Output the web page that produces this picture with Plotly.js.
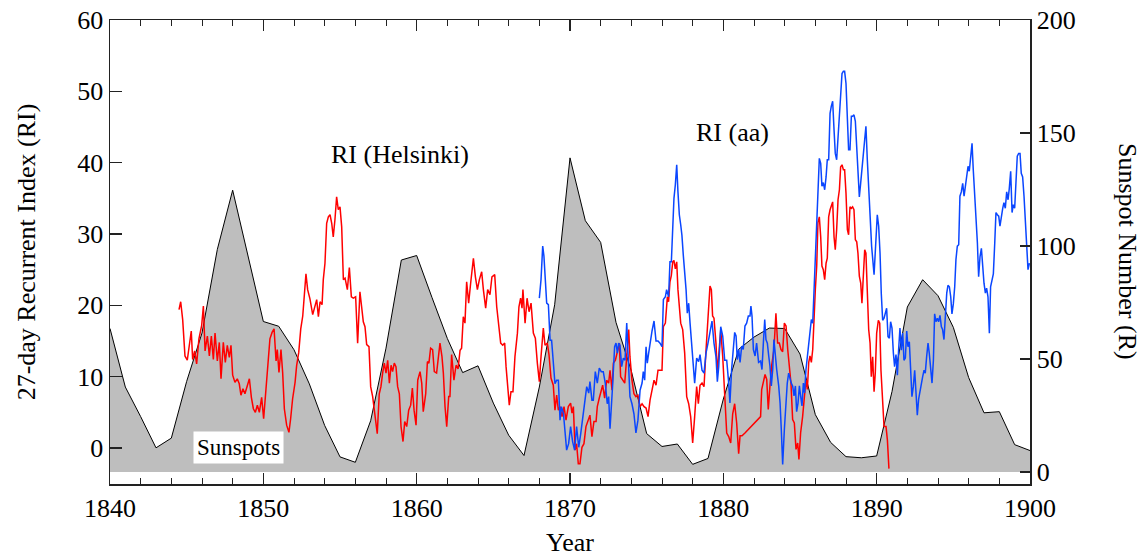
<!DOCTYPE html>
<html>
<head>
<meta charset="utf-8">
<script src="https://cdn.plot.ly/plotly-3.0.1.min.js"></script>
<style>html,body{margin:0;padding:0;background:#fff;}#chart{width:1146px;height:557px;}</style>
</head>
<body>
<div id="chart"></div>
<script>
// Yearly sunspot number (right axis)
const sunYear = [1840,1841,1842,1843,1844,1845,1846,1847,1848,1849,1850,1851,1852,1853,1854,1855,1856,1857,1858,1859,1860,1861,1862,1863,1864,1865,1866,1867,1868,1869,1870,1871,1872,1873,1874,1875,1876,1877,1878,1879,1880,1881,1882,1883,1884,1885,1886,1887,1888,1889,1890,1891,1892,1893,1894,1895,1896,1897,1898,1899,1900];
const sunR = [63.5,37.6,24.5,10.7,15.0,40.1,61.5,98.5,124.7,96.3,66.6,64.5,54.1,39.0,20.6,6.7,4.3,22.7,54.8,93.8,95.8,77.2,59.1,44.0,47.0,30.5,16.3,7.3,37.6,74.0,139.0,111.2,101.6,66.2,44.7,17.0,11.3,12.4,3.4,6.0,32.3,54.3,59.7,63.7,63.5,52.2,25.4,13.1,6.8,6.3,7.1,35.6,73.0,85.1,78.0,64.0,41.8,26.2,26.7,12.1,9.5];

// RI (Helsinki) - red
const helYear = [1844.50,1844.61,1844.74,1844.89,1845.04,1845.17,1845.30,1845.39,1845.52,1845.65,1845.80,1845.98,1846.09,1846.20,1846.35,1846.48,1846.61,1846.74,1846.85,1847.00,1847.13,1847.24,1847.39,1847.52,1847.65,1847.78,1847.89,1848.00,1848.15,1848.30,1848.43,1848.54,1848.67,1848.80,1848.96,1849.09,1849.22,1849.35,1849.48,1849.61,1849.74,1849.89,1850.02,1850.17,1850.30,1850.43,1850.57,1850.70,1850.83,1850.91,1851.02,1851.15,1851.26,1851.37,1851.52,1851.67,1851.78,1851.91,1852.07,1852.17,1852.31,1852.44,1852.57,1852.68,1852.78,1852.89,1853.04,
1853.22,1853.37,1853.48,1853.59,1853.70,1853.83,1853.91,1854.02,1854.13,1854.24,1854.35,1854.46,1854.56,1854.67,1854.78,1854.89,1855.00,1855.11,1855.22,1855.33,1855.48,1855.61,1855.74,1855.87,1856.02,1856.15,1856.30,1856.41,1856.52,1856.63,1856.74,1856.89,1857.00,1857.13,1857.28,1857.43,1857.56,1857.67,1857.78,1857.89,1858.00,1858.11,1858.22,1858.33,1858.43,1858.54,1858.65,1858.76,1858.87,1858.98,1859.11,1859.22,1859.35,1859.48,1859.61,1859.72,1859.83,1859.96,1860.07,1860.22,1860.33,1860.43,1860.59,1860.70,1860.80,1860.91,1861.04,1861.15,1861.30,1861.41,1861.52,1861.65,1861.74,1861.85,1861.96,1862.09,1862.17,
1862.28,1862.43,1862.57,1862.70,1862.83,1862.93,1863.04,1863.15,1863.26,1863.39,1863.52,1863.70,1863.83,1863.96,1864.09,1864.24,1864.35,1864.50,1864.63,1864.78,1864.91,1865.09,1865.22,1865.35,1865.48,1865.61,1865.74,1865.83,1865.93,1866.04,1866.15,1866.28,1866.41,1866.57,1866.67,1866.78,1866.87,1866.93,1867.07,1867.20,1867.33,1867.46,1867.61,1867.74,1867.87,1868.00,1868.11,1868.26,1868.37,1868.52,1868.63,1868.76,1868.91,1869.02,1869.13,1869.24,1869.35,1869.48,1869.61,1869.74,1869.89,1870.04,1870.13,1870.22,1870.33,1870.43,1870.54,1870.65,1870.78,1870.91,1871.04,1871.17,
1871.30,1871.43,1871.56,1871.70,1871.78,1871.91,1872.04,1872.13,1872.26,1872.39,1872.52,1872.61,1872.74,1872.83,1872.96,1873.09,1873.22,1873.30,1873.43,1873.57,1873.70,1873.83,1873.91,1874.04,1874.17,1874.30,1874.43,1874.57,1874.70,1874.83,1874.96,1875.09,1875.22,1875.35,1875.48,1875.61,1875.74,1875.87,1876.00,1876.09,1876.22,1876.35,1876.43,1876.52,1876.61,1876.70,1876.78,1876.87,1876.96,1877.04,1877.13,1877.22,1877.35,1877.48,1877.61,1877.74,1877.87,1878.00,1878.13,1878.26,1878.37,1878.48,1878.61,1878.74,1878.87,1879.00,1879.13,1879.22,1879.30,1879.39,1879.52,1879.61,1879.70,1879.83,1879.96,1880.09,1880.22,1880.35,1880.48,1880.61,1880.74,1880.87,1881.00,
1881.09,1881.22,1881.41,1881.63,1881.85,1882.07,1882.28,1882.43,1882.50,1882.61,1882.72,1882.83,1882.93,1883.04,1883.15,1883.30,1883.43,1883.54,1883.65,1883.76,1883.87,1883.98,1884.09,1884.20,1884.30,1884.41,1884.52,1884.63,1884.74,1884.85,1884.93,1885.04,1885.17,1885.30,1885.39,1885.48,1885.57,1885.65,1885.74,1885.83,1885.91,1886.00,1886.09,1886.17,1886.26,1886.35,1886.43,1886.52,1886.61,1886.70,1886.78,1886.87,1886.96,1887.04,1887.13,1887.22,1887.30,1887.39,1887.48,1887.57,1887.65,1887.74,1887.83,1887.91,1888.00,1888.09,1888.17,1888.26,1888.35,1888.43,1888.52,1888.61,1888.70,1888.78,1888.87,1888.96,1889.04,1889.13,1889.22,1889.30,1889.39,1889.48,
1889.57,1889.65,1889.74,1889.83,1889.91,1890.00,1890.11,1890.20,1890.28,1890.39,1890.48,1890.61,1890.70,1890.80];
const helRI = [19.4,20.5,18.0,12.9,12.3,14.6,16.4,12.4,13.6,11.8,15.3,17.2,19.9,13.6,15.7,12.9,15.7,12.4,16.1,12.2,14.8,9.7,14.8,12.0,14.4,12.7,14.4,10.2,9.2,9.7,9.0,7.4,8.3,7.6,8.8,9.7,7.1,5.5,5.0,6.0,5.0,7.1,4.1,8.3,12.9,15.3,16.2,16.7,12.2,13.8,10.6,13.8,10.6,5.5,3.2,2.2,4.1,6.9,9.2,11.5,13.4,16.7,18.5,22.0,24.4,22.2,20.9,
18.7,19.8,20.8,18.4,20.5,20.1,23.6,25.9,31.5,32.4,32.7,31.5,29.6,32.0,35.2,33.4,33.8,31.0,23.6,23.8,22.2,25.3,21.2,21.0,21.2,14.7,21.9,19.8,17.7,17.0,14.5,14.2,8.6,7.2,4.9,2.0,7.6,8.6,10.5,11.9,10.5,12.3,9.1,11.6,10.7,11.9,11.4,8.6,7.6,3.0,0.9,3.7,3.0,5.3,6.0,8.4,5.3,3.2,9.5,10.7,9.1,5.1,7.6,12.1,11.9,14.0,13.8,10.7,10.5,12.3,14.7,12.8,10.5,5.8,3.0,7.2,7.2,
13.1,9.5,11.6,11.1,13.7,14.0,18.4,17.5,23.3,20.3,23.1,26.6,24.0,22.2,23.6,24.7,22.2,19.6,22.2,21.5,24.0,24.3,19.8,17.0,14.7,14.4,14.7,11.4,8.6,6.0,7.9,7.9,12.8,16.1,19.8,21.0,19.6,22.2,17.5,21.0,19.1,20.3,16.1,15.4,11.9,9.3,12.8,16.8,14.4,14.7,13.1,9.8,8.8,5.3,7.4,5.3,5.8,4.4,5.8,3.9,5.8,6.3,4.9,5.8,-0.3,0.6,-2.2,-2.2,0.1,0.6,3.0,3.9,
4.6,1.6,3.7,3.7,5.8,7.0,8.1,8.8,7.0,9.5,9.1,10.9,8.1,11.9,12.3,13.7,14.7,10.0,9.5,9.1,12.8,16.6,12.8,9.5,7.6,7.2,7.4,5.8,6.2,5.8,5.6,4.4,6.7,8.1,9.5,8.8,10.9,10.9,10.9,17.0,17.5,21.2,20.5,23.3,24.2,26.1,26.3,25.1,26.1,22.2,19.9,17.5,16.6,13.3,7.2,6.2,4.4,0.7,4.4,8.6,6.2,8.8,9.1,8.6,13.7,17.5,22.7,22.2,18.5,18.2,14.7,10.5,13.3,16.6,12.8,8.1,2.1,1.6,0.7,4.8,6.2,3.5,-0.8,
1.7,1.7,2.1,2.6,3.0,3.5,4.0,4.4,8.2,9.1,10.3,9.6,5.4,8.7,11.5,13.8,18.9,14.7,14.7,13.8,13.5,17.5,17.1,13.8,11.0,9.1,4.0,3.5,-0.2,0.7,-1.6,2.1,4.4,8.2,9.6,8.2,12.0,12.9,12.0,13.8,18.5,22.2,25.5,31.6,32.4,29.6,25.5,25.0,23.6,25.9,26.6,32.4,33.4,33.8,34.5,29.6,27.8,30.6,34.8,36.2,39.4,39.7,39.0,39.0,35.7,30.6,29.9,33.8,33.6,33.8,33.4,29.2,28.9,27.3,24.1,23.1,20.3,24.1,27.8,27.3,22.2,16.6,
14.7,10.0,12.8,7.9,10.5,16.1,17.9,17.5,10.9,5.8,3.0,3.0,1.1,-2.9];

// RI (aa) - blue
const aaYear = [1868.00,1868.11,1868.22,1868.30,1868.39,1868.48,1868.59,1868.70,1868.80,1868.91,1869.02,1869.13,1869.24,1869.35,1869.44,1869.57,1869.67,1869.78,1869.91,1870.04,1870.17,1870.30,1870.43,1870.57,1870.70,1870.83,1870.96,1871.09,1871.22,
1871.30,1871.43,1871.52,1871.65,1871.78,1871.91,1872.04,1872.17,1872.30,1872.43,1872.52,1872.61,1872.70,1872.78,1872.91,1873.00,1873.09,1873.17,1873.26,1873.37,1873.48,1873.59,1873.70,1873.80,1873.91,1874.04,1874.17,1874.30,1874.43,1874.57,1874.70,1874.78,1874.87,1874.96,1875.04,1875.13,1875.22,1875.35,1875.48,1875.61,1875.74,1875.87,1876.00,1876.09,1876.22,1876.30,1876.43,1876.52,1876.61,1876.70,1876.78,1876.87,1876.96,1877.04,1877.13,1877.22,1877.30,1877.39,1877.48,1877.57,1877.65,1877.74,1877.83,1877.91,1878.00,1878.13,1878.26,1878.39,1878.48,1878.61,1878.74,1878.87,1879.00,1879.13,1879.26,1879.39,1879.52,1879.61,1879.70,1879.83,1879.96,1880.09,1880.22,1880.35,
1880.43,1880.54,1880.65,1880.74,1880.83,1880.91,1881.00,1881.09,1881.20,1881.30,1881.41,1881.52,1881.63,1881.74,1881.80,1881.87,1881.96,1882.07,1882.17,1882.30,1882.43,1882.52,1882.61,1882.70,1882.78,1882.87,1882.96,1883.04,1883.13,1883.22,1883.30,1883.39,1883.48,1883.61,1883.70,1883.78,1883.87,1883.98,1884.09,1884.17,1884.26,1884.35,1884.43,1884.52,1884.61,1884.70,1884.78,1884.87,1884.96,1885.04,1885.13,1885.22,1885.30,1885.39,1885.48,1885.57,1885.65,1885.74,1885.83,1885.91,1886.00,1886.09,1886.17,1886.26,1886.35,1886.43,1886.52,1886.61,1886.70,1886.78,1886.87,1886.96,1887.04,1887.13,1887.22,1887.30,1887.39,1887.48,1887.57,1887.65,1887.74,1887.83,1887.91,1888.00,1888.09,1888.17,1888.26,1888.35,1888.43,1888.52,1888.61,1888.70,1888.78,1888.87,1888.96,1889.04,1889.13,1889.22,1889.30,1889.39,1889.48,
1889.57,1889.67,1889.83,1889.96,1890.04,1890.13,1890.22,1890.30,1890.39,1890.48,1890.57,1890.65,1890.74,1890.83,1890.91,1891.00,1891.09,1891.17,1891.26,1891.35,1891.43,1891.52,1891.61,1891.70,1891.78,1891.87,1891.96,1892.04,1892.13,1892.22,1892.30,1892.39,1892.48,1892.57,1892.65,1892.74,1892.83,1892.91,1893.00,1893.09,1893.17,1893.26,1893.35,1893.43,1893.52,1893.61,1893.70,1893.78,1893.87,1893.96,1894.04,1894.13,1894.22,1894.30,1894.39,1894.48,1894.57,1894.65,1894.74,1894.83,1894.91,1895.00,1895.09,1895.17,1895.26,1895.35,1895.43,1895.52,1895.61,1895.70,1895.78,1895.87,1895.96,1896.04,1896.13,1896.22,1896.30,1896.39,1896.48,1896.57,1896.65,1896.74,1896.83,1896.91,1897.00,1897.09,1897.17,1897.26,1897.35,1897.43,1897.52,1897.61,1897.70,1897.78,1897.87,1897.96,1898.04,1898.13,1898.22,1898.30,1898.39,1898.48,1898.57,1898.65,1898.74,1898.83,1898.91,1899.00,1899.09,1899.17,1899.26,1899.35,1899.43,1899.52,1899.61,1899.70,1899.78,1899.87,1899.96];
const aaRI = [21.0,23.6,28.3,26.9,23.6,20.3,20.1,15.1,15.1,11.4,9.0,9.5,9.5,3.9,5.8,4.9,2.0,-0.3,0.6,3.0,0.9,-0.3,3.0,0.1,2.0,4.4,6.8,8.6,7.7,
9.3,6.7,6.7,10.7,9.1,11.2,10.7,10.7,9.1,6.2,7.2,2.7,7.0,8.8,14.2,14.7,13.3,14.7,14.4,11.4,12.6,12.3,17.5,12.8,7.2,6.2,4.8,2.1,3.9,8.1,9.1,10.7,9.5,14.2,11.9,13.3,14.7,16.4,17.8,15.0,15.0,14.7,14.2,20.8,21.2,22.2,21.2,26.1,26.1,32.2,35.0,36.9,39.7,35.9,32.7,31.3,29.8,27.0,24.8,22.2,18.9,20.3,17.5,15.2,12.3,9.1,12.6,12.1,13.1,10.9,10.5,13.3,14.7,16.1,17.8,14.7,12.8,9.3,11.4,17.0,15.7,12.3,12.3,9.1,
6.3,11.0,13.8,16.2,15.7,12.4,13.8,12.0,14.3,13.8,17.1,17.5,18.5,18.5,19.9,18.5,13.8,12.9,14.7,12.0,12.2,11.0,14.7,18.0,15.2,14.7,12.9,11.5,8.7,11.0,15.2,12.4,11.0,8.7,6.3,2.6,-2.3,2.6,6.8,9.1,10.5,9.6,9.1,8.7,7.3,8.7,5.1,6.3,8.7,7.3,5.9,9.1,7.7,11.0,12.9,13.8,15.7,18.0,17.5,22.2,25.9,32.4,36.2,40.6,39.9,36.7,37.2,36.2,38.0,40.4,40.4,46.9,47.9,48.6,44.6,41.3,40.4,43.6,45.5,49.7,52.5,52.8,52.8,51.1,46.5,41.8,41.8,46.5,46.5,46.7,45.8,41.3,38.5,35.2,37.2,39.0,41.3,43.2,45.1,40.4,36.2,
32.7,28.3,24.3,29.7,32.7,31.1,27.3,21.7,17.9,18.2,19.1,19.6,15.6,15.4,17.7,16.8,13.3,11.4,13.1,10.2,13.7,16.8,13.7,16.1,12.3,12.6,16.4,14.2,14.9,10.9,7.2,8.6,10.9,7.6,4.6,6.9,8.1,8.6,10.0,10.9,10.5,12.8,14.7,13.3,10.5,9.1,12.3,18.8,17.7,18.2,17.7,18.6,17.0,16.6,15.2,18.8,21.7,22.8,22.6,21.2,18.8,20.2,22.6,26.4,28.3,28.5,35.3,35.9,37.1,35.3,36.6,38.5,39.5,38.8,41.3,42.7,39.0,35.8,32.0,28.7,24.0,26.8,28.0,25.0,23.1,21.7,22.4,21.2,16.1,22.6,23.5,24.4,28.7,33.0,32.7,32.5,31.1,32.7,33.6,34.4,33.6,35.9,34.8,36.4,38.8,33.0,34.1,33.6,39.0,40.9,41.3,41.3,38.5,38.0,35.3,32.0,28.3,25.0,25.9];

const labels = {helsinki: 'RI (Helsinki)', aa: 'RI (aa)', sunspots: 'Sunspots'};

const FONT = 'Liberation Serif, Times New Roman, serif';

// Sunspots on the base axis (y, right side); RI lines on the overlaying axis (y2, left side) so they draw above the fill
const traces = [
  {x: sunYear, y: sunR, yaxis: 'y', type: 'scatter', mode: 'lines', fill: 'tozeroy',
   fillcolor: '#bebebe', line: {color: '#000', width: 1}, hoverinfo: 'skip'},
  {x: helYear, y: helRI, yaxis: 'y2', type: 'scatter', mode: 'lines', line: {color: '#ff0000', width: 1.5}},
  {x: aaYear, y: aaRI, yaxis: 'y2', type: 'scatter', mode: 'lines', line: {color: '#0a46ff', width: 1.5}}
];

const layout = {
  width: 1146, height: 557,
  margin: {l: 110, r: 116, t: 20, b: 73},
  paper_bgcolor: '#fff', plot_bgcolor: '#fff',
  showlegend: false,
  font: {family: FONT, size: 26, color: '#000'},
  xaxis: {
    range: [1840, 1900], tick0: 1840, dtick: 10, ticks: 'inside', ticklen: 11, tickwidth: 1.2, tickcolor: '#222',
    minor: {dtick: 2, ticks: 'inside', ticklen: 6, tickwidth: 1, tickcolor: '#222'},
    showline: true, linecolor: '#222', linewidth: 1.5, mirror: 'ticks',
    showgrid: false, zeroline: false,
    title: {text: 'Year', font: {family: FONT, size: 26}, standoff: 18}
  },
  yaxis: {
    side: 'right', range: [-5.3, 200], tickvals: [0, 50, 100, 150, 200],
    ticks: 'inside', ticklen: 10, tickwidth: 1.2, tickcolor: '#222',
    showline: true, linecolor: '#222', linewidth: 1.5, showgrid: false, zeroline: false
  },
  yaxis2: {
    overlaying: 'y', side: 'left', range: [-5.05, 60], tickvals: [0, 10, 20, 30, 40, 50, 60],
    ticks: 'inside', ticklen: 12, tickwidth: 1.2, tickcolor: '#222',
    showline: true, linecolor: '#222', linewidth: 1.5, showgrid: false, zeroline: false,
    title: {text: '27-day Recurrent Index (RI)', font: {family: FONT, size: 26}, standoff: 34}
  },
  annotations: [
    {xref: 'x', yref: 'y2', x: 1858.9, y: 41.1, text: labels.helsinki, showarrow: false, font: {family: FONT, size: 26}},
    {xref: 'x', yref: 'y2', x: 1880.6, y: 44.2, text: labels.aa, showarrow: false, font: {family: FONT, size: 26}},
    {xref: 'x', yref: 'y2', x: 1848.35, y: 0.0, text: labels.sunspots, showarrow: false, bgcolor: '#fff',
     borderpad: 3, font: {family: FONT, size: 23}},
    {xref: 'paper', yref: 'paper', x: 1.1065, y: 0.5, text: 'Sunspot Number (R)', textangle: 90, showarrow: false,
     xanchor: 'center', yanchor: 'middle', font: {family: FONT, size: 26}}
  ]
};

Plotly.newPlot('chart', traces, layout, {displayModeBar: false, staticPlot: true});
</script>
</body>
</html>
